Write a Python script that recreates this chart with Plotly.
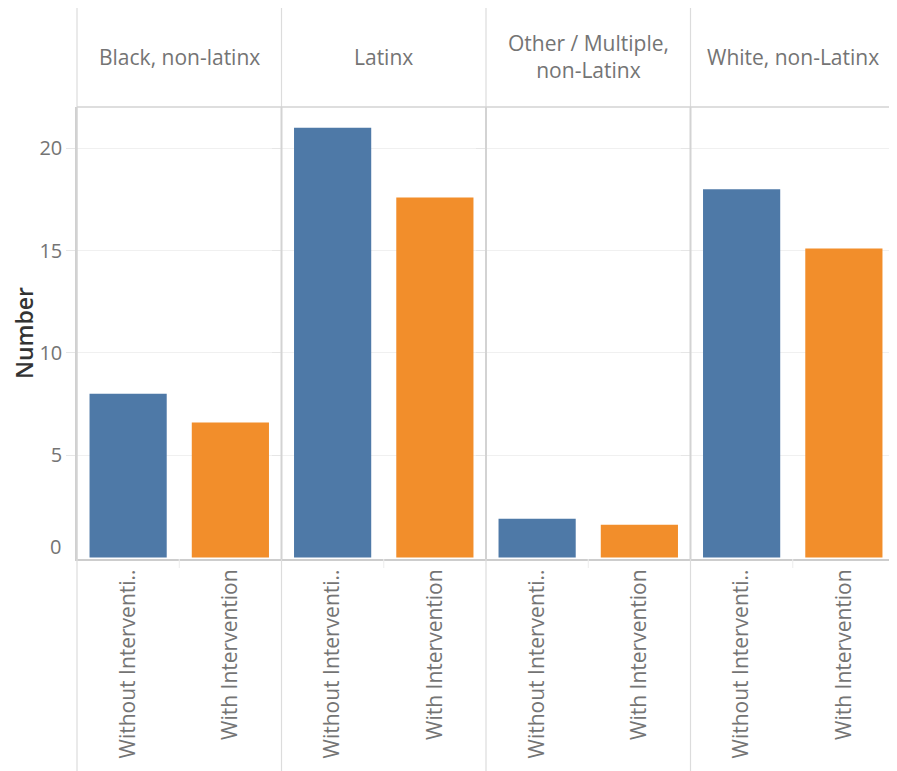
import plotly.graph_objects as go
from plotly.subplots import make_subplots

# ---- data ----
groups = ["Black, non-latinx", "Latinx", "Other / Multiple,<br>non-Latinx", "White, non-Latinx"]
treatments = ["Without Intervention", "With Intervention"]
treatment_labels = ["Without Interventi..", "With Intervention"]
without_values = [8.0, 21.0, 1.9, 18.0]
with_values = [6.6, 17.6, 1.6, 15.1]
y_ticks = [0, 5, 10, 15, 20]
y_title = "Number"

BLUE = "#4E79A7"
ORANGE = "#F28E2B"
TEXT = "#747474"
FONT = "Open Sans"

OFF = 8  # page body margin
W, H = 897 - OFF, 771 - OFF
L, R, T, B = 77 - OFF, 2, 107 - OFF, 212
plot_h = H - T - B

def py(px):
    """reference-screen pixel y -> paper y"""
    return 1 + (T - (px - OFF)) / plot_h

fig = make_subplots(rows=1, cols=4, shared_yaxes=True, horizontal_spacing=0)

for i in range(4):
    fig.add_trace(
        go.Bar(
            x=treatments,
            y=[without_values[i], with_values[i]],
            marker=dict(color=[BLUE, ORANGE], line=dict(width=0)),
            showlegend=False,
            hoverinfo="x+y",
        ),
        row=1, col=i + 1,
    )
    fig.update_xaxes(
        row=1, col=i + 1,
        tickmode="array", tickvals=treatments, ticktext=treatment_labels,
        tickangle=-90,
        tickfont=dict(family=FONT, size=21, color=TEXT),
        showline=True, linecolor="#cdcdcd", linewidth=2,
        showgrid=False, zeroline=False, ticks="", automargin=False,
    )

fig.update_yaxes(
    range=[-0.07, 22.02],
    tickmode="array", tickvals=y_ticks[1:], ticktext=[str(v) for v in y_ticks[1:]],
    tickfont=dict(family=FONT, size=20, color=TEXT),
    showgrid=True, gridcolor="#f0f0f0", gridwidth=1,
    ticks="outside", ticklen=9, tickcolor="#e6e6e6",
    zeroline=False, showline=False, automargin=False,
)
fig.update_yaxes(
    row=1, col=1, showline=True, linecolor="#d0d0d0", linewidth=1.5,
    title=dict(text=y_title, standoff=18,
               font=dict(family=FONT, size=23, color="#333333", weight=600)),
)

shapes = []
bx = [0, 0.25, 0.5, 0.75, 1.0]
for k, x in enumerate(bx):
    shapes.append(dict(type="line", xref="paper", yref="paper", x0=x, x1=x,
                       y0=py(OFF), y1=1, line=dict(color="#dcdcdc", width=1.2)))
    shapes.append(dict(type="line", xref="paper", yref="paper", x0=x, x1=x,
                       y0=0, y1=1, line=dict(color="#d3d3d3", width=2 if k > 0 else 1.5)))
    shapes.append(dict(type="line", xref="paper", yref="paper", x0=x, x1=x,
                       y0=py(771), y1=0, line=dict(color="#dcdcdc", width=1.2)))
shapes.append(dict(type="line", xref="paper", yref="paper", x0=0, x1=1, y0=1, y1=1,
                   line=dict(color="#d3d3d3", width=1.5)))
for k in range(4):
    xc = 0.125 + 0.25 * k
    shapes.append(dict(type="line", xref="paper", yref="paper", x0=xc, x1=xc,
                       y0=py(568), y1=0, line=dict(color="#ececec", width=1)))

annotations = []
for i, g in enumerate(groups):
    annotations.append(dict(
        text=g, xref="paper", yref="paper", x=0.125 + 0.25 * i, y=py(57),
        xanchor="center", yanchor="middle", showarrow=False,
        font=dict(family=FONT, size=21, color=TEXT), align="center",
    ))
annotations.append(dict(
    text=str(y_ticks[0]), xref="paper", yref="y", x=0, y=y_ticks[0],
    xanchor="right", yanchor="middle", xshift=-14, yshift=11, showarrow=False,
    font=dict(family=FONT, size=20, color=TEXT),
))

fig.update_layout(
    width=W, height=H,
    margin=dict(l=L, r=R, t=T, b=B, pad=0, autoexpand=False),
    paper_bgcolor="white", plot_bgcolor="white",
    bargap=0.245,
    shapes=shapes, annotations=annotations,
    font=dict(family=FONT, color=TEXT),
)

fig.write_html("out.html")
